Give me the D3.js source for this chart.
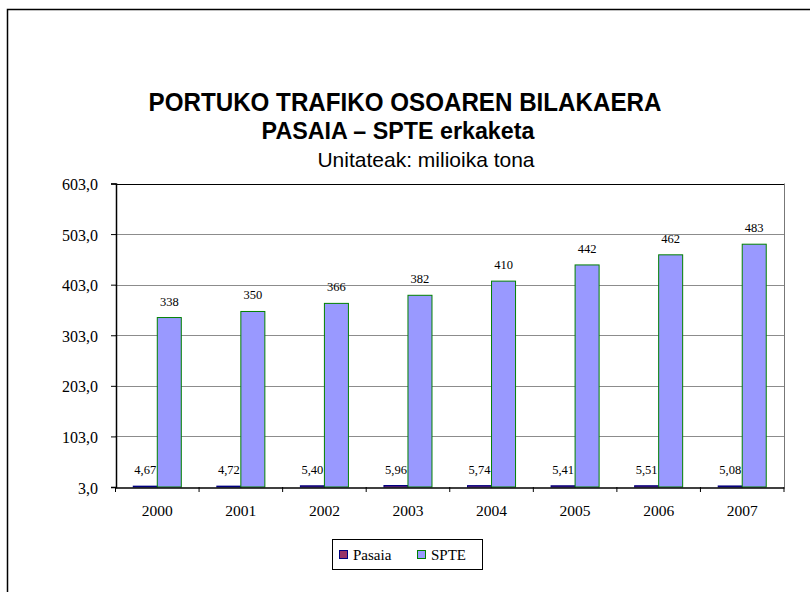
<!DOCTYPE html>
<html><head><meta charset="utf-8">
<script src="https://cdn.jsdelivr.net/npm/d3@7"></script>
<style>body{margin:0;background:#fff}svg{display:block}</style>
</head><body>
<svg id="c" width="810" height="592"></svg>
<script>
const years = ["2000","2001","2002","2003","2004","2005","2006","2007"];
const seriesNames = ["Pasaia","SPTE"];
const pasaia = [4.67,4.72,5.40,5.96,5.74,5.41,5.51,5.08];
const spte = [338,350,366,382,410,442,462,483];
const yTicks = [3,103,203,303,403,503,603];
const titleText = "PORTUKO TRAFIKO OSOAREN BILAKAERA";
const subtitleText = "PASAIA – SPTE erkaketa";
const unitText = "Unitateak: milioika tona";

const colors = {Pasaia:{fill:"#993366",stroke:"#000080"}, SPTE:{fill:"#9999FF",stroke:"#008000"}};
const svg = d3.select("#c");
const serif = "'Liberation Serif','Times New Roman',serif";
const sans = "'Liberation Sans',Arial,sans-serif";

// outer frame (top + left)
svg.append("path").attr("d","M7.5,600 V9.5 H812").attr("fill","none").attr("stroke","#000").attr("stroke-width",1.5);

svg.append("text").attr("transform","translate(405,111) scale(0.93,1)").attr("text-anchor","middle")
  .attr("font-family",sans).attr("font-weight","bold").attr("font-size",26).text(titleText);
svg.append("text").attr("transform","translate(398,139) scale(0.97,1)").attr("text-anchor","middle")
  .attr("font-family",sans).attr("font-weight","bold").attr("font-size",24).text(subtitleText);
svg.append("text").attr("x",426).attr("y",167).attr("text-anchor","middle")
  .attr("font-family",sans).attr("font-size",21).text(unitText);

const L=115.5, R=784, T=183.5, B=487;
const y = d3.scaleLinear().domain([3,603]).range([B,T]);
const x0 = d3.scaleBand().domain(years).range([L,R]).paddingInner(0).paddingOuter(0);
const x1 = d3.scaleBand().domain(seriesNames).range([0,x0.bandwidth()]).paddingInner(0).paddingOuter(0.74);

// gridlines
svg.append("g").selectAll("line").data(yTicks.slice(1,-1)).join("line")
  .attr("x1",L).attr("x2",R).attr("y1",d=>Math.round(y(d))+0.5).attr("y2",d=>Math.round(y(d))+0.5)
  .attr("stroke","#8c8c8c").attr("stroke-width",1);
// plot border
svg.append("line").attr("x1",L).attr("x2",R).attr("y1",Math.round(T)+0.5).attr("y2",Math.round(T)+0.5).attr("stroke","#000");
svg.append("line").attr("x1",R+0.5).attr("x2",R+0.5).attr("y1",T).attr("y2",B).attr("stroke","#777");

const data = years.map((yr,i)=>({year:yr, values:[{s:"Pasaia",v:pasaia[i]},{s:"SPTE",v:spte[i]}]}));
const g = svg.append("g");
const groups = g.selectAll("g").data(data).join("g").attr("transform",d=>`translate(${x0(d.year)},0)`);
groups.selectAll("rect").data(d=>d.values).join("rect")
  .attr("x",d=>x1(d.s)).attr("width",x1.bandwidth())
  .attr("y",d=>y(d.v)).attr("height",d=>B-y(d.v))
  .attr("fill",d=>colors[d.s].fill).attr("stroke",d=>colors[d.s].stroke).attr("stroke-width",1);
const fmt2 = v=>v.toFixed(2).replace(".",",");
groups.selectAll("text").data(d=>d.values).join("text")
  .attr("x",d=>x1(d.s)+x1.bandwidth()/2).attr("y",d=>y(d.v)-12)
  .attr("text-anchor","middle").attr("font-family",serif).attr("font-size",12.5).attr("fill","#000")
  .text(d=>d.s==="SPTE"?String(d.v):fmt2(d.v));

// axes
const yAxis = d3.axisLeft(y).tickValues(yTicks).tickSize(5).tickPadding(13)
  .tickFormat(d=>d.toFixed(1).replace(".",","));
const ya = svg.append("g").attr("transform",`translate(${L+0.5},0)`).call(yAxis);
ya.select(".domain").attr("stroke","#000").attr("stroke-width",1.5);
ya.selectAll("text").attr("font-family",serif).attr("font-size",16).attr("fill","#000").attr("dy","0.38em");

const xAxis = d3.axisBottom(x0).tickSize(0).tickPadding(17);
const xa = svg.append("g").attr("transform",`translate(0,${B+0.5})`).call(xAxis);
xa.select(".domain").attr("stroke","#000").attr("stroke-width",1.5);
xa.selectAll("text").attr("font-family",serif).attr("font-size",15.5).attr("fill","#000");
// category boundary ticks
svg.append("g").selectAll("line").data(years.concat(["end"])).join("line")
  .attr("x1",d=>d==="end"?R:x0(d)).attr("x2",d=>d==="end"?R:x0(d))
  .attr("y1",B).attr("y2",B+5).attr("stroke","#000");

// legend
const lg = svg.append("g");
lg.append("rect").attr("x",332.5).attr("y",539.5).attr("width",150).attr("height",30).attr("fill","#fff").attr("stroke","#000");
const lx = [339,417];
seriesNames.forEach((s,i)=>{
  lg.append("rect").attr("x",lx[i]+0.5).attr("y",550.5).attr("width",8).attr("height",8)
    .attr("fill",colors[s].fill).attr("stroke",colors[s].stroke);
  lg.append("text").attr("x",lx[i]+14).attr("y",559.5).attr("font-family",serif).attr("font-size",15).text(s);
});
</script>
</body></html>
